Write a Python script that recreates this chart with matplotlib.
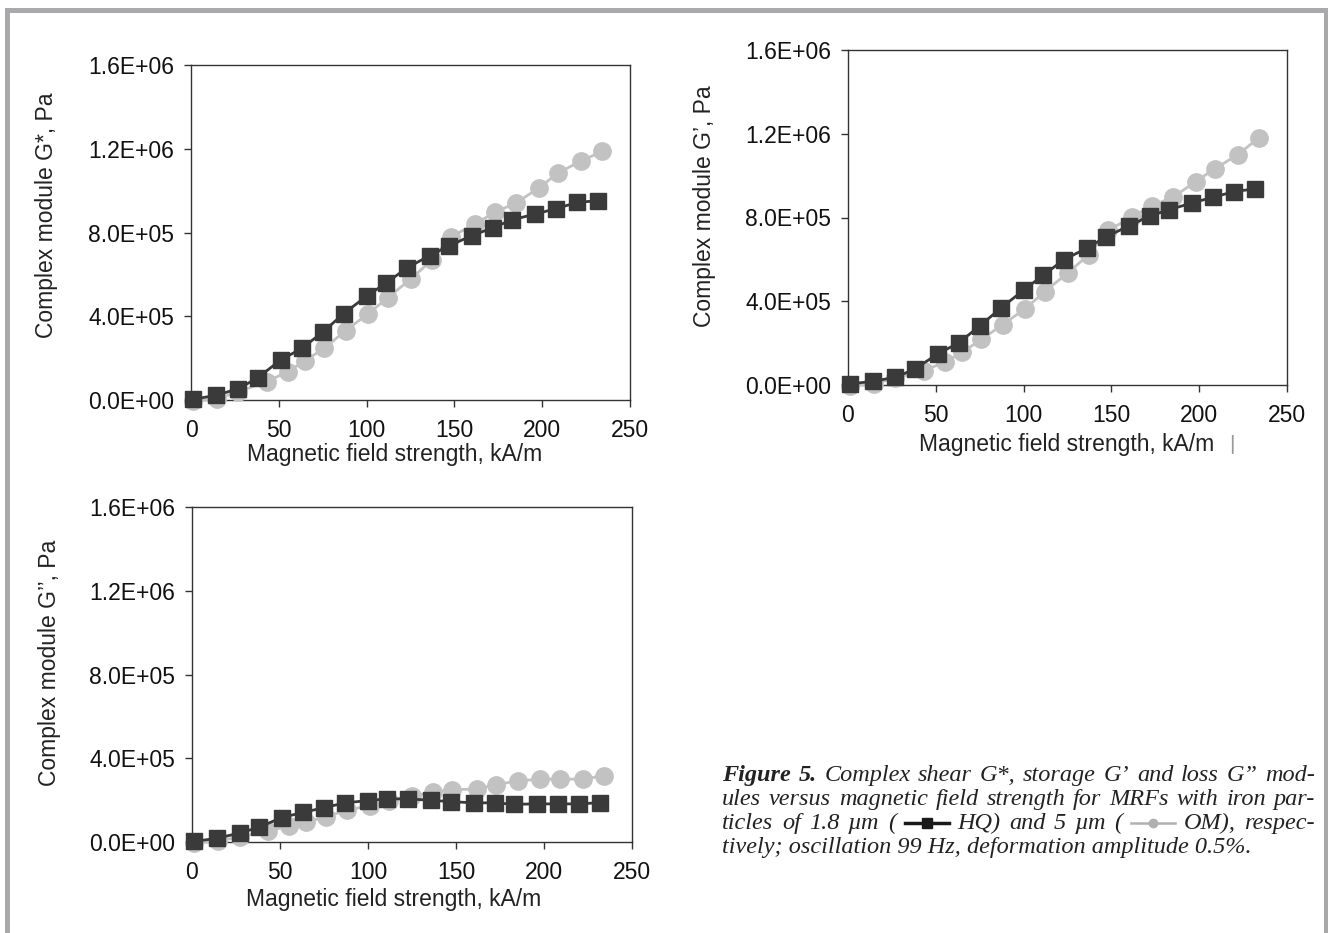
import numpy as np
import matplotlib.pyplot as plt
from matplotlib.ticker import FuncFormatter, MultipleLocator
from matplotlib.patches import Rectangle
from matplotlib.lines import Line2D

# field strength, kA/m (the two powders were measured at slightly different fields)
field_hq = [1, 14, 27, 38, 51, 63, 75, 87, 100, 111, 123, 136, 147, 160, 172, 183, 196, 208, 220, 232]
field_om = [1, 15, 27, 43, 55, 65, 76, 88, 101, 112, 125, 137, 148, 162, 173, 185, 198, 209, 222, 234]

# complex shear modulus G*, Pa
g_star_hq = [3e3, 2.2e4, 5.4e4, 1.06e5, 1.91e5, 2.46e5, 3.24e5, 4.13e5, 4.96e5, 5.58e5,
             6.31e5, 6.90e5, 7.37e5, 7.85e5, 8.23e5, 8.61e5, 8.88e5, 9.14e5, 9.44e5, 9.52e5]
g_star_om = [-5e3, 6e3, 4.0e4, 8.7e4, 1.35e5, 1.88e5, 2.48e5, 3.31e5, 4.13e5, 4.88e5,
             5.77e5, 6.67e5, 7.79e5, 8.42e5, 8.96e5, 9.41e5, 1.012e6, 1.084e6, 1.141e6, 1.187e6]

# storage modulus G', Pa
g_store_hq = [5e3, 1.75e4, 3.7e4, 7.6e4, 1.48e5, 2.01e5, 2.82e5, 3.67e5, 4.53e5, 5.23e5,
              5.99e5, 6.53e5, 7.08e5, 7.60e5, 8.08e5, 8.37e5, 8.70e5, 8.97e5, 9.24e5, 9.37e5]
g_store_om = [-5e3, 6e3, 3.3e4, 6.9e4, 1.08e5, 1.56e5, 2.18e5, 2.88e5, 3.65e5, 4.46e5,
              5.34e5, 6.22e5, 7.38e5, 8.03e5, 8.56e5, 8.97e5, 9.71e5, 1.034e6, 1.100e6, 1.181e6]

# loss modulus G'', Pa
g_loss_hq = [3e3, 1.7e4, 4.3e4, 7.0e4, 1.17e5, 1.41e5, 1.64e5, 1.87e5, 1.98e5, 2.06e5,
             2.06e5, 1.99e5, 1.93e5, 1.87e5, 1.87e5, 1.80e5, 1.82e5, 1.82e5, 1.82e5, 1.88e5]
g_loss_om = [-5e3, 5e3, 2.4e4, 5.2e4, 7.6e4, 9.5e4, 1.20e5, 1.52e5, 1.74e5, 1.94e5,
             2.21e5, 2.37e5, 2.50e5, 2.53e5, 2.74e5, 2.92e5, 3.00e5, 3.00e5, 3.00e5, 3.16e5]

xlabel = "Magnetic field strength, kA/m"
ylabels = ["Complex module G*, Pa", "Complex module G\u2019, Pa", "Complex module G\u2019\u2019, Pa"]

DARK = "#3a3a3a"
LIGHT = "#c2c2c2"
W, H = 1328, 933

plt.rcParams['font.family'] = ['Liberation Sans', 'DejaVu Sans']

fig = plt.figure(figsize=(W / 100, H / 100), dpi=100)


def px_rect(left, top, right, bottom):
    return [left / W, 1 - bottom / H, (right - left) / W, (bottom - top) / H]


def make_panel(rect, hq, om, ylab, ylab_pos, xlab_pos):
    ax = fig.add_axes(rect)
    ax.plot(field_om, om, color=LIGHT, lw=2.0, marker='o', ms=12.5,
            mfc=LIGHT, mec=LIGHT, clip_on=False, zorder=3)
    ax.plot(field_hq, hq, color=DARK, lw=2.0, marker='s', ms=11.5,
            mfc=DARK, mec=DARK, clip_on=False, zorder=4)
    ax.set_xlim(0, 250)
    ax.set_ylim(0, 1.6e6)
    ax.xaxis.set_major_locator(MultipleLocator(50))
    ax.yaxis.set_major_locator(MultipleLocator(4e5))
    ax.yaxis.set_major_formatter(FuncFormatter(lambda v, p: f"{v:.1E}"))
    ax.tick_params(direction='out', length=5, width=1, color='#333333',
                   labelsize=16.5, labelcolor='#111111')
    ax.tick_params(axis='y', pad=7)
    ax.tick_params(axis='x', pad=9)
    for s in ax.spines.values():
        s.set_color('#333333')
        s.set_linewidth(1.0)
    ax.set_ylabel(ylab, fontsize=16.5, color='#222222')
    ax.yaxis.set_label_coords(*ylab_pos)
    ax.set_xlabel(xlabel, fontsize=16.5, color='#222222')
    ax.xaxis.set_label_coords(*xlab_pos)
    return ax


ax1 = make_panel(px_rect(191, 65, 630, 400), g_star_hq, g_star_om, ylabels[0],
                 (-0.303, 0.55), (0.4636, -0.128))
ax2 = make_panel(px_rect(848, 50, 1287, 385), g_store_hq, g_store_om, ylabels[1],
                 (-0.301, 0.534), (0.497, -0.143))
ax3 = make_panel(px_rect(192, 507, 632, 842), g_loss_hq, g_loss_om, ylabels[2],
                 (-0.298, 0.534), (0.458, -0.137))

# stray mark left of the G' x label in the original scan
fig.text(1232 / W, 1 - 445 / H, "|", fontsize=15, color='#999999', ha='center', va='center')

# grey page frame
fig.add_artist(Rectangle((6.5 / W, -0.05), (1325.5 - 6.5) / W, 1 - 10.5 / H + 0.05,
                         transform=fig.transFigure, fill=False, ec='#a9a9ab', lw=3.6))

# caption: justified lines, legend samples placed between the words
renderer = fig.canvas.get_renderer()
cap_kw = dict(fontsize=17.5, family=['Liberation Serif', 'DejaVu Serif'], style='italic',
              color='#222222', va='baseline', ha='left')
cap_left, cap_right = 722, 1315
baselines = [781, 805, 829, 853]

SAMPLE_HQ = ('sample', '#1a1a1a', 's', 7, 2.5, 44)
SAMPLE_OM = ('sample', '#b0b0b0', 'o', 6, 1.8, 44)

caption_lines = [
    [("Figure", 'bold'), ("5.", 'bold'), "Complex", "shear", "G*,", "storage", "G\u2019",
     "and", "loss", "G\u201d", "mod-"],
    "ules versus magnetic field strength for MRFs with iron par-".split(),
    ["ticles", "of", "1.8", "\u00b5m", "(", SAMPLE_HQ, "HQ)", "and", "5", "\u00b5m", "(",
     SAMPLE_OM, "OM),", "respec-"],
]
last_line = "tively; oscillation 99 Hz, deformation amplitude 0.5%."


def make_token(tok, y):
    if isinstance(tok, tuple) and tok[0] == 'sample':
        _, color, marker, ms, lw, width = tok
        ln = Line2D([0, 0, 0], [0, 0, 0], transform=fig.transFigure, color=color, lw=lw,
                    marker=marker, ms=ms, mfc=color, mec=color, markevery=[1])
        fig.add_artist(ln)
        return ('sample', ln, width)
    kw = dict(cap_kw)
    if isinstance(tok, tuple):
        tok, weight = tok
        kw['weight'] = weight
    t = fig.text(0, 1 - y / H, tok, **kw)
    return ('text', t, t.get_window_extent(renderer).width)


for line, y in zip(caption_lines, baselines):
    items = [make_token(tok, y) for tok in line]
    natural = sum(w for _, _, w in items)
    gap = (cap_right - cap_left - natural) / (len(items) - 1)
    x = cap_left
    for kind, art, w in items:
        if kind == 'text':
            art.set_x(x / W)
        else:
            yy = 1 - (y - 6) / H
            art.set_data([x / W, (x + w / 2) / W, (x + w) / W], [yy] * 3)
        x += w + gap

fig.text(cap_left / W, 1 - baselines[3] / H, last_line, **cap_kw)

fig.savefig("out.png", dpi=100, facecolor='white')
